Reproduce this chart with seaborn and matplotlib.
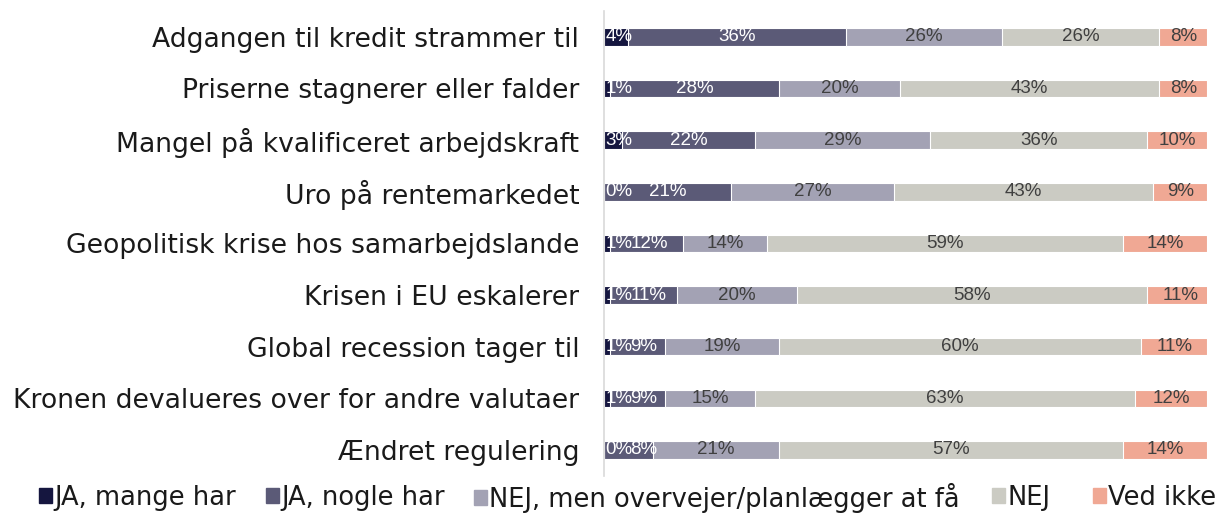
import numpy as np
import pandas as pd
import seaborn as sns
import matplotlib.pyplot as plt

# Categories (top to bottom) and the share for each answer
categories = [
    "Adgangen til kredit strammer til",
    "Priserne stagnerer eller falder",
    "Mangel på kvalificeret arbejdskraft",
    "Uro på rentemarkedet",
    "Geopolitisk krise hos samarbejdslande",
    "Krisen i EU eskalerer",
    "Global recession tager til",
    "Kronen devalueres over for andre valutaer",
    "Ændret regulering",
]
series_names = ["JA, mange har", "JA, nogle har", "NEJ, men overvejer/planlægger at få", "NEJ", "Ved ikke"]
ja_mange = [4, 1, 3, 0, 1, 1, 1, 1, 0]
ja_nogle = [36, 28, 22, 21, 12, 11, 9, 9, 8]
nej_men = [26, 20, 29, 27, 14, 20, 19, 15, 21]
nej = [26, 43, 36, 43, 59, 58, 60, 63, 57]
ved_ikke = [8, 8, 10, 9, 14, 11, 11, 12, 14]

colors = ["#15163f", "#5b5a77", "#a3a2b4", "#cbcbc3", "#f0a894"]
text_colors = ["white", "white", "#404040", "#404040", "#404040"]

values = np.array([ja_mange, ja_nogle, nej_men, nej, ved_ikke])
cum = values.cumsum(axis=0)

sns.set_theme(style="white")
plt.rcParams["font.family"] = ["DejaVu Sans"]

fig = plt.figure(figsize=(12.16, 5.24), dpi=100)
ax = fig.add_axes([0.497, 0.092, 0.496, 0.887])

# stacked bars: draw the cumulative totals from the right-most series backwards
for i in range(len(series_names) - 1, -1, -1):
    df = pd.DataFrame({"cat": categories, "val": cum[i]})
    sns.barplot(data=df, x="val", y="cat", color=colors[i], ax=ax,
                width=0.34, edgecolor="white", linewidth=0.8, saturation=1)

ax.set_xlim(0, 100)
ax.set_ylim(8.5, -0.5)

# value labels centred in each segment
labels = []
for j in range(len(categories)):
    row = []
    for i in range(len(series_names)):
        left = cum[i][j] - values[i][j]
        t = ax.text(left + values[i][j] / 2, j, f"{values[i][j]}%", ha="center", va="center",
                    color=text_colors[i], fontsize=13.5, family="Liberation Sans")
        row.append(t)
    labels.append(row)

# nudge labels of tiny segments so they stay inside and don't pile up
fig.canvas.draw()
r = fig.canvas.get_renderer()
px_per_unit = ax.bbox.width / 100
for row in labels:
    edge = ax.bbox.x0 + 1
    for t in row:
        bb = t.get_window_extent(r)
        if bb.x0 < edge:
            x, y = t.get_position()
            t.set_position((x + (edge - bb.x0) / px_per_unit, y))
            bb = t.get_window_extent(r)
        edge = bb.x1 - 2

ax.set_xlabel("")
ax.set_ylabel("")
ax.set_xticks([])
ax.tick_params(axis="y", length=0, pad=18, labelsize=19.2, labelcolor="#1a1a1a")
for s in ["top", "right", "bottom"]:
    ax.spines[s].set_visible(False)
ax.spines["left"].set_color("#d9d9d9")
ax.spines["left"].set_linewidth(1.2)

# legend entries placed like the original (one per series)
legend_x = [39, 266, 474, 992, 1093]
for i, name in enumerate(series_names):
    h = plt.Rectangle((0, 0), 1, 1, color=colors[i])
    fig.legend([h], [name], loc="center left", bbox_to_anchor=(legend_x[i] / 1216, 0.05),
               frameon=False, fontsize=18.5, handlelength=0.5, handleheight=0.5,
               handletextpad=0.1, borderpad=0, borderaxespad=0, labelcolor="#1a1a1a")

fig.savefig("out.png", dpi=100)
